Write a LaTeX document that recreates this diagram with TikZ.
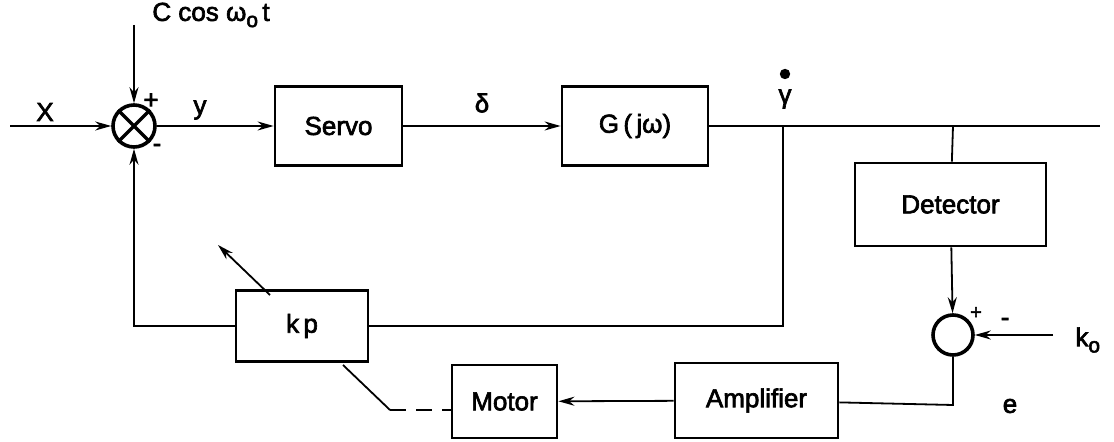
\documentclass[tikz,border=0pt]{standalone}
\usepackage{fontspec}
\setmainfont{Liberation Sans}[FakeBold=2.5]
\usetikzlibrary{arrows.meta}
\newcommand{\lowsub}[1]{\raisebox{-0.45ex}{\fontsize{10.5}{12}\selectfont #1}}
\begin{document}
\begin{tikzpicture}[x=0.5pt,y=-0.5pt,
  every node/.style={font=\fontsize{13}{15}\selectfont},
  blk/.style={draw,line width=1.4pt,inner sep=0pt},
  sumc/.style={draw,circle,line width=1.8pt,inner sep=0pt},
  ln/.style={line width=0.9pt},
  arr/.style={ln,-{Stealth[length=8pt,width=4.5pt]}},
  lbl/.style={inner sep=0pt}]
\useasboundingbox (0,0) rectangle (1114,442);
% blocks
\node[blk,minimum width=63.5pt,minimum height=39.5pt] (servo) at (338.5,126) {Servo};
\node[blk,minimum width=73pt,minimum height=39.5pt] (G) at (635,126) {G\,(\,jω)};
\node[blk,minimum width=95.5pt,minimum height=41.5pt] (det) at (950.5,204.5) {Detector};
\node[blk,minimum width=66pt,minimum height=35.5pt] (kp) at (302,326) {k\,p};
\node[blk,minimum width=52.5pt,minimum height=36.5pt] (motor) at (504.5,401.5) {Motor};
\node[blk,minimum width=81.5pt,minimum height=37.5pt] (amp) at (756.5,400.5) {Amplifier};
\node[sumc,minimum size=21pt] (s1) at (134,126) {};
\draw[line width=1.6pt] (s1.north west) -- (s1.south east) (s1.north east) -- (s1.south west);
\node[sumc,minimum size=20pt] (s2) at (953,335) {};
% coordinates
\coordinate (xin) at (10,126);
\coordinate (cin) at (134,25);
\coordinate (out) at (1100,126);
\coordinate (tap1) at (783,126);
\coordinate (tap1b) at (783,326);
\coordinate (tap2) at (953,126);
\coordinate (k0) at (1053,335);
\coordinate (ecor) at (953,405);
\coordinate (fb) at (134,326);
\coordinate (da) at (270,295);
\coordinate (db) at (218,245);
\coordinate (ma) at (343,365);
\coordinate (mb) at (390,410);
\coordinate (mc) at (452,410);
% connectors
\draw[arr] (xin) -- (s1);
\draw[arr] (cin) -- (s1);
\draw[arr] (s1) -- (servo);
\draw[arr] (servo) -- (G);
\draw[ln] (G) -- (out);
\draw[ln] (tap1) -- (tap1b) -- (kp);
\draw[arr] (kp) -- (fb) -- (s1);
\draw[ln] (tap2) -- (det);
\draw[arr] (det) -- (s2);
\draw[arr] (k0) -- (s2);
\draw[ln] (s2) -- (ecor) -- (amp);
\draw[arr] (amp) -- (motor);
\draw[arr] (da) -- (db);
\draw[ln] (ma) -- (mb);
\draw[ln,dash pattern=on 8pt off 5pt] (mb) -- (mc);
% labels
\node[lbl] (lx) at (45,112) {X};
\node[lbl,anchor=west] (lc) at (152,15) {C cos ω\lowsub{o}\,t};
\node[lbl] (ly) at (200,110) {y};
\node[lbl] (p1) at (151,101) {+};
\node[lbl] (m1) at (157,148) {-};
\node[lbl] (ld) at (482,103) {δ};
\node[lbl] (lg) at (785,99) {γ};
\fill (785,74) circle (2.6pt);
\node[lbl] (p2) at (976,313) {\fontsize{10}{12}\selectfont +};
\node[lbl] (m2) at (1005,322) {-};
\node[lbl,anchor=west] (lk) at (1075,340) {k\lowsub{o}};
\node[lbl] (le) at (1010,406) {e};
\end{tikzpicture}
\end{document}
